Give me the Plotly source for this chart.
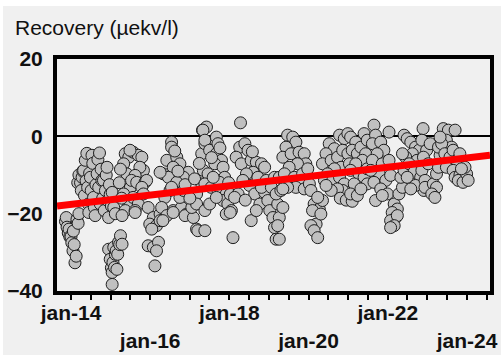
import plotly.graph_objects as go
from datetime import datetime, timedelta

# ---------------- data (decimal year, recovery in µekv/l) ----------------
t_2014 = [2013.86, 2013.88, 2013.90, 2013.93, 2013.95, 2013.97, 2014.00, 2014.02, 2014.05, 2014.06,
          2014.08, 2014.10, 2014.13, 2014.15, 2014.18, 2014.20, 2014.17, 2014.20,
          2014.24, 2014.26, 2014.28, 2014.30, 2014.32, 2014.34, 2014.36, 2014.38, 2014.40, 2014.42,
          2014.44, 2014.45, 2014.47, 2014.49, 2014.51, 2014.53, 2014.55, 2014.57, 2014.59, 2014.61,
          2014.63, 2014.66, 2014.68, 2014.70, 2014.72, 2014.74, 2014.76, 2014.78, 2014.80, 2014.82,
          2014.84, 2014.87, 2014.89, 2014.91, 2014.93, 2014.95, 2014.97, 2014.99]
v_2014 = [-22.0, -21.0, -23.5, -25.0, -24.0, -26.0, -26.0, -27.5, -29.6, -24.5,
          -28.0, -32.7, -31.0, -21.5, -22.5, -20.0, -12.0, -10.0,
          -12.0, -14.0, -10.6, -9.0, -8.8, -15.3, -6.2, -11.5, -4.4, -13.2,
          -17.5, -19.7, -9.5, -10.6, -14.0, -4.9, -7.0, -15.8, -18.4, -20.5,
          -12.5, -9.7, -6.0, -13.2, -4.3, -17.5, -8.5, -11.4, -16.0, -11.4,
          -19.2, -14.0, -10.0, -8.0, -16.6, -21.0, -12.5, -15.0]

t_2015 = [2015.02, 2015.04, 2015.08, 2015.12,
          2014.95, 2014.99, 2015.02, 2015.04, 2015.04, 2015.06, 2015.08, 2015.10, 2015.12, 2015.14,
          2015.16, 2015.18, 2015.20, 2015.23, 2015.25, 2015.29,
          2015.37, 2015.46, 2015.33, 2015.41, 2015.50, 2015.33, 2015.46, 2015.37, 2015.22, 2015.25,
          2015.28, 2015.57, 2015.70, 2015.79, 2015.83, 2015.74, 2015.62, 2015.53, 2015.66, 2015.87,
          2015.91, 2015.79, 2015.57, 2015.70, 2015.62, 2015.83, 2015.95, 2015.49, 2015.29, 2015.62]
v_2015 = [-18.0, -14.5, -18.4, -20.0,
          -29.2, -31.8, -34.0, -35.2, -38.3, -32.6, -28.7, -33.9, -30.5, -29.6,
          -34.4, -30.5, -27.4, -28.0, -25.7, -27.9,
          -4.5, -5.4, -7.1, -9.7, -13.2, -14.9, -17.5, -19.2, -12.0, -8.5,
          -16.0, -4.1, -4.9, -5.4, -8.8, -8.0, -10.1, -11.4, -11.9, -11.9,
          -11.4, -13.2, -15.8, -17.5, -19.2, -14.9, -18.4, -3.6, -20.5, -19.7]

t_2016 = [2016.08, 2015.99, 2016.16, 2015.95, 2016.08, 2016.21, 2016.16, 2016.12, 2016.04, 2016.25,
          2016.54, 2016.54, 2016.42, 2016.67, 2016.75, 2016.58, 2016.96, 2016.33, 2016.46, 2016.25,
          2016.84, 2016.67, 2016.50, 2016.37, 2016.29, 2016.58, 2016.79, 2016.92, 2016.96, 2016.75,
          2016.42, 2016.25, 2016.54, 2016.84, 2016.62, 2016.70, 2016.88, 2016.32, 2016.58, 2016.88]
v_2016 = [-21.0, -22.7, -23.1, -28.3, -28.7, -27.4, -29.6, -33.5, -24.0, -20.1,
          -1.5, -2.8, -6.2, -5.4, -7.1, -8.0, -9.3, -9.7, -10.6, -9.3,
          -10.6, -11.9, -14.0, -15.8, -18.4, -19.2, -18.4, -20.1, -14.9, -15.8,
          -20.5, -21.8, -13.2, -14.0, -3.8, -9.0, -12.5, -21.8, -19.7, -20.5]

t_2017 = [2017.09, 2017.17, 2017.05, 2017.17, 2017.30, 2017.34, 2017.30, 2017.32, 2017.38, 2017.17,
          2017.00, 2017.12, 2017.24, 2017.20,
          2017.42, 2017.33, 2017.38, 2017.50, 2017.67, 2017.71, 2017.67, 2017.80, 2017.63, 2017.46,
          2017.38, 2017.54, 2017.84, 2017.88, 2017.75, 2017.71, 2017.92, 2017.84, 2017.96, 2017.92,
          2017.38, 2017.38, 2017.50, 2017.67, 2017.59, 2017.55, 2017.76, 2017.98]
v_2017 = [-21.0, -24.0, -18.4, -14.9, -12.3, -8.8, -4.5, 1.6, -1.9, -17.5,
          -16.0, -11.0, -7.0, -24.4,
          2.4, 1.6, -1.0, -3.6, -0.2, -1.9, -4.5, -6.2, -7.1, -9.7,
          -12.3, -13.2, -8.0, -10.6, -11.9, -14.0, -14.9, -16.6, -17.5, -20.1,
          -19.2, -24.4, -17.5, -15.8, -10.6, -5.5, -3.0, -12.0]

t_2018 = [2018.05, 2018.02, 2018.02, 2018.09, 2018.28,
          2018.26, 2018.39, 2018.47, 2018.17, 2018.30, 2018.55, 2018.68, 2018.81, 2018.89, 2018.60,
          2018.43, 2018.72, 2018.51, 2018.64, 2018.77, 2018.55, 2018.68, 2018.89, 2018.97, 2018.93,
          2018.81, 2018.34, 2018.22, 2018.13, 2018.40, 2018.58]
v_2018 = [-19.2, -15.0, -19.7, -26.2, 3.5,
          -2.8, -1.9, -3.6, -5.4, -7.1, -6.2, -6.7, -7.1, -8.0, -9.3,
          -9.7, -10.6, -12.7, -14.9, -17.5, -21.8, -19.2, -14.5, -16.6, -11.4,
          -13.2, -11.4, -14.9, -15.8, -16.5, -4.0]

t_2019 = [2019.02, 2019.10, 2019.14, 2019.18, 2019.06, 2019.14,
          2019.22, 2019.26, 2019.22, 2019.26, 2019.35, 2019.18, 2019.30, 2019.39, 2019.26,
          2019.47, 2019.60, 2019.68, 2019.43, 2019.35, 2019.56, 2019.76, 2019.89, 2019.93, 2019.72,
          2019.51, 2019.39, 2019.64, 2019.85, 2019.98, 2019.81, 2019.68, 2019.47, 2019.35, 2019.89]
v_2019 = [-19.2, -21.0, -23.6, -26.6, -13.2, -10.6,
          -17.5, -21.0, -23.1, -26.6, -18.4, -14.9, -14.0, -11.4, -10.6,
          0.3, -0.2, -1.5, -2.8, -5.4, -4.5, -4.1, -4.5, -7.1, -7.1,
          -8.0, -9.7, -10.6, -9.7, -8.4, -11.9, -13.2, -13.2, -13.6, -13.6]

t_2020 = [2020.02, 2020.06,
          2020.14, 2020.27, 2020.10, 2020.19, 2020.06, 2020.14, 2020.23, 2020.31, 2020.35, 2020.23,
          2020.78, 2020.90, 2020.99, 2020.52, 2020.65, 2020.44, 2020.35, 2020.57, 2020.73, 2020.86,
          2020.99, 2020.82, 2020.65, 2020.48, 2020.40, 2020.61, 2020.78, 2020.90, 2020.99, 2020.86,
          2020.73, 2020.57, 2020.44, 2020.80, 2020.95]
v_2020 = [-12.3, -14.0,
          -17.5, -18.8, -19.2, -22.7, -23.1, -24.4, -26.2, -20.1, -16.6, -15.8,
          0.3, -0.6, 0.7, -1.9, -3.2, -4.5, -7.1, -6.2, -5.4, -3.6,
          -4.5, -8.0, -8.4, -9.7, -11.4, -11.4, -10.6, -12.3, -14.5, -14.0,
          -13.6, -14.0, -12.7, -16.0, -16.5]

t_2021 = [2021.03, 2021.10,
          2021.06, 2021.19, 2021.10, 2021.23, 2021.32, 2021.40, 2021.48, 2021.44, 2021.36, 2021.19,
          2021.06, 2021.27, 2021.40, 2021.48, 2021.15, 2021.06, 2021.23, 2021.32, 2021.48,
          2021.65, 2021.69, 2021.61, 2021.82, 2021.90, 2021.73, 2021.61, 2021.86, 2021.78,
          2021.65, 2021.95, 2021.82, 2021.69, 2021.99, 2021.86, 2021.57]
v_2021 = [-7.1, -16.8,
          -0.2, -1.5, -3.6, -4.5, -2.8, 0.7, -1.0, -4.5, -6.2, -7.1,
          -8.8, -9.7, -10.6, -12.3, -12.3, -14.9, -15.3, -13.6, -8.4,
          2.9, 0.3, -1.9, -1.5, -3.6, -4.5, -6.2, -7.1, -9.7,
          -11.9, -11.4, -13.6, -16.6, -14.9, -15.3, -8.8]

t_2022 = [2022.03, 2022.03, 2022.07,
          2022.16, 2022.24, 2022.11, 2022.20, 2022.07, 2022.24, 2022.16, 2022.07, 2022.28, 2022.37,
          2022.33, 2022.41,
          2022.41, 2022.49, 2022.58, 2022.70, 2022.79, 2022.89, 2022.62, 2022.45, 2022.74, 2022.54,
          2022.87, 2022.66, 2022.49, 2022.83, 2022.91, 2022.70, 2022.58, 2022.37,
          2022.86, 2022.98, 2022.90, 2022.86, 2022.94, 2022.94]
v_2022 = [1.1, -6.2, -10.1,
          -17.5, -18.8, -19.7, -21.0, -21.8, -20.5, -23.1, -23.6, -14.9, -13.2,
          -10.6, -8.8,
          0.3, -0.6, -1.5, -2.8, -3.6, 2.0, -4.5, -5.4, -6.2, -7.1,
          -8.0, -9.3, -10.6, -10.6, -14.0, -12.7, -13.6, -4.5,
          -1.0, -3.6, -5.4, -8.8, -11.4, -13.2]

t_2023 = [2023.07, 2023.02, 2023.15, 2023.23, 2023.11, 2023.19, 2023.23, 2023.28, 2023.32, 2023.28,
          2023.40, 2023.53, 2023.70, 2023.48, 2023.61, 2023.36, 2023.44, 2023.57, 2023.65, 2023.74,
          2023.82, 2023.32, 2023.48, 2023.65, 2023.70, 2023.82, 2023.78, 2023.90, 2023.99, 2024.03,
          2023.95, 2023.86]
v_2023 = [-1.9, -7.1, -12.3, -13.2, -14.9, -15.8, -9.7, -8.0, -4.9, -2.8,
          2.0, 1.6, 1.6, -1.0, -2.8, -1.9, -4.5, -5.4, -3.6, -6.2,
          -4.5, -0.2, -8.0, -8.8, -10.6, -10.1, -11.4, -11.9, -9.7, -11.4,
          -8.0, -8.4]

# linear trend (start / end of the drawn line)
trend_t = [2013.646, 2024.58]
trend_v = [-18.0, -4.9]

# axis
x_range_t = [2013.646, 2024.58]
y_range = [-40, 20]
y_ticks = [-40, -20, 0, 20]
x_tick_dates = ["2014-01-01", "2014-07-01", "2015-01-01", "2015-07-01", "2016-01-01", "2016-07-01",
                "2017-01-01", "2017-07-01", "2018-01-01", "2018-07-01", "2019-01-01", "2019-07-01",
                "2020-01-01", "2020-07-01", "2021-01-01", "2021-07-01", "2022-01-01", "2022-07-01",
                "2023-01-01", "2023-07-01", "2024-01-01", "2024-07-01"]
x_tick_text = ["jan-14", "", "", "", " <br>jan-16", "", "", "", "jan-18", "", "", "",
               " <br>jan-20", "", "", "", "jan-22", "", "", "", " <br>jan-24", ""]
y_title = "Recovery (µekv/l)"


def to_date(t):
    y = int(t // 1)
    start = datetime(y, 1, 1)
    days = (datetime(y + 1, 1, 1) - start).days
    return start + timedelta(days=(t - y) * days)


all_t = t_2014 + t_2015 + t_2016 + t_2017 + t_2018 + t_2019 + t_2020 + t_2021 + t_2022 + t_2023
all_v = v_2014 + v_2015 + v_2016 + v_2017 + v_2018 + v_2019 + v_2020 + v_2021 + v_2022 + v_2023
dates = [to_date(t) for t in all_t]

fig = go.Figure()
fig.add_trace(go.Scatter(
    x=dates, y=all_v, mode="markers",
    marker=dict(size=12, color="#c0c0c0", line=dict(color="#1e1e1e", width=1)),
    showlegend=False, hoverinfo="skip"))
fig.add_trace(go.Scatter(
    x=[to_date(t) for t in trend_t], y=trend_v, mode="lines",
    line=dict(color="#ff0000", width=7), showlegend=False, hoverinfo="skip"))

font_family = "Liberation Sans, Arial, sans-serif"
fig.update_layout(
    width=501, height=359,
    margin=dict(l=57, r=11, t=59, b=68, autoexpand=False),
    paper_bgcolor="#ffffff", plot_bgcolor="#f0f0f0",
    font=dict(family=font_family, color="#111111"),
    title=dict(text=y_title, x=15 / 501, xanchor="left", y=1 - 28 / 359, yanchor="middle",
               font=dict(size=21, family=font_family, color="#111111")),
    shapes=[dict(type="rect", xref="paper", yref="paper", layer="below",
                 x0=(3 - 57) / 433, x1=(501 - 57) / 433, y0=(291 - 355) / 232, y1=(291 - 6) / 232,
                 fillcolor="#f0f0f0", line=dict(width=0))],
    xaxis=dict(type="date", range=[to_date(x_range_t[0]), to_date(x_range_t[1])],
               tickmode="array", tickvals=x_tick_dates, ticktext=x_tick_text,
               ticks="outside", ticklen=5, tickwidth=1.5, tickcolor="#000000",
               showline=True, linecolor="#000000", linewidth=4, mirror=True,
               showgrid=False, zeroline=False, automargin=False, ticklabelstandoff=-5,
               tickfont=dict(size=21, weight="bold", family=font_family, color="#111111")),
    yaxis=dict(range=y_range, tickmode="array", tickvals=y_ticks,
               ticks="", showline=True, linecolor="#000000", linewidth=4, mirror=True,
               showgrid=False, zeroline=True, zerolinecolor="#000000", zerolinewidth=1.5,
               ticklabelstandoff=6, automargin=False,
               tickfont=dict(size=21, weight="bold", family=font_family, color="#111111")),
)

fig.write_html("out.html")
